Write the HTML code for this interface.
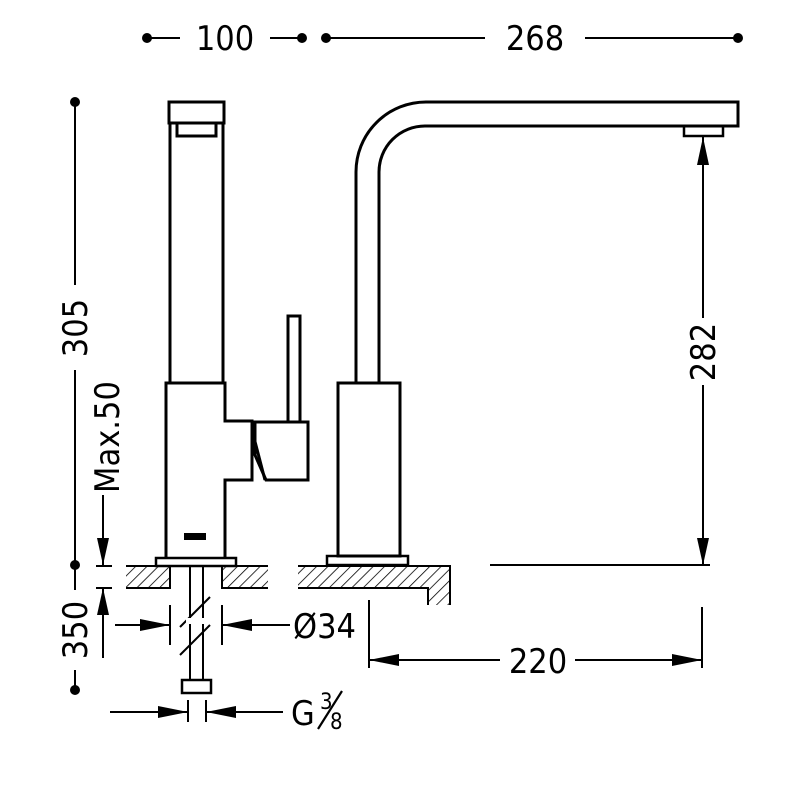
<!DOCTYPE html>
<html><head><meta charset="utf-8"><style>
html,body{margin:0;padding:0;background:#fff;}
svg{display:block;}
text{font-family:"DejaVu Sans Condensed","Liberation Sans",sans-serif;fill:#000;}
</style></head><body>
<svg width="800" height="800" viewBox="0 0 800 800" xmlns="http://www.w3.org/2000/svg">
<defs>
<pattern id="h" patternUnits="userSpaceOnUse" width="8" height="8" patternTransform="rotate(45)">
<line x1="0" y1="0" x2="0" y2="8" stroke="#000" stroke-width="1.6"/>
</pattern>
</defs>
<g fill="none" stroke="#000" stroke-width="3">
<rect x="169" y="102" width="55" height="21"/>
<path d="M177 123 V136 H216 V123"/>
<line x1="170" y1="123" x2="170" y2="383"/>
<line x1="223" y1="123" x2="223" y2="383"/>
<path d="M166 558 V383 H225 V421 H252 V480 H225 V558"/>
<path d="M255 422 H308 V480 H266 L255 455 Z"/>
<path d="M252 430 L265 480"/>
<rect x="288" y="316" width="12" height="106"/>
<rect x="156" y="558" width="80" height="8" stroke-width="2.5"/>
<path d="M356 383 V172 A70 70 0 0 1 426 102 H738 V126 H425 A46 46 0 0 0 379 172 V383"/>
<rect x="684" y="126" width="39" height="10" stroke-width="2.5"/>
<rect x="338" y="383" width="62" height="173"/>
<rect x="327" y="556" width="81" height="9" stroke-width="2.5"/>
</g>
<rect x="184" y="533" width="22" height="7" fill="#000"/>
<g stroke="#000" stroke-width="2">
<rect x="126" y="566" width="44" height="22" fill="url(#h)" stroke="none"/>
<rect x="222" y="566" width="46" height="22" fill="url(#h)" stroke="none"/>
<path d="M298 566 H450 V605 H428 V588 H298 Z" fill="url(#h)" stroke="none"/>
<path d="M126 566 H170 V588 H126 M268 566 H222 V588 H268" fill="none"/>
<path d="M298 566 H450 V605 M428 605 V588 H298" fill="none"/>
<line x1="190" y1="566" x2="190" y2="680"/>
<line x1="203" y1="566" x2="203" y2="680"/>
<line x1="180" y1="627" x2="210" y2="597"/>
<line x1="180" y1="655" x2="210" y2="625"/>
<rect x="182" y="680" width="29" height="13" fill="#fff" stroke-width="2.5"/>
</g>
<rect x="186" y="618" width="20" height="6" fill="#fff"/>
<g stroke="#000" stroke-width="2" fill="none">
<line x1="147" y1="38" x2="180" y2="38"/><line x1="270" y1="38" x2="302" y2="38"/>
<line x1="326" y1="38" x2="485" y2="38"/><line x1="585" y1="38" x2="738" y2="38"/>
<line x1="75" y1="102" x2="75" y2="285"/><line x1="75" y1="370" x2="75" y2="565"/>
<line x1="75" y1="565" x2="75" y2="590"/><line x1="75" y1="670" x2="75" y2="690"/>
<line x1="103" y1="495" x2="103" y2="565"/><line x1="96" y1="566" x2="112" y2="566"/>
<line x1="96" y1="588" x2="112" y2="588"/><line x1="103" y1="588" x2="103" y2="658"/>
<line x1="703" y1="137" x2="703" y2="318"/><line x1="703" y1="385" x2="703" y2="565"/>
<line x1="490" y1="565" x2="710" y2="565"/>
<line x1="369" y1="600" x2="369" y2="668"/><line x1="702" y1="607" x2="702" y2="668"/>
<line x1="369" y1="660" x2="500" y2="660"/><line x1="575" y1="660" x2="702" y2="660"/>
<line x1="170" y1="605" x2="170" y2="645"/><line x1="222" y1="605" x2="222" y2="645"/>
<line x1="115" y1="625" x2="170" y2="625"/><line x1="222" y1="625" x2="290" y2="625"/>
<line x1="188" y1="700" x2="188" y2="722"/><line x1="206" y1="700" x2="206" y2="722"/>
<line x1="110" y1="712" x2="188" y2="712"/><line x1="206" y1="712" x2="283" y2="712"/>
<line x1="318" y1="729" x2="342" y2="691" stroke-width="2.2"/>
</g>
<g fill="#000">
<circle cx="147" cy="38" r="5"/><circle cx="302" cy="38" r="5"/>
<circle cx="326" cy="38" r="5"/><circle cx="738" cy="38" r="5"/>
<circle cx="75" cy="102" r="5"/><circle cx="75" cy="565" r="5"/><circle cx="75" cy="690" r="5"/>
<polygon points="97,538 109,538 103,565"/>
<polygon points="97,615 109,615 103,588"/>
<polygon points="697,165 709,165 703,137"/>
<polygon points="697,538 709,538 703,565"/>
<polygon points="369,660 399,654 399,666"/>
<polygon points="702,660 672,654 672,666"/>
<polygon points="170,625 140,619 140,631"/>
<polygon points="222,625 252,619 252,631"/>
<polygon points="188,712 158,706 158,718"/>
<polygon points="206,712 236,706 236,718"/>
</g>
<g font-size="34">
<text x="225" y="50" text-anchor="middle">100</text>
<text x="535" y="50" text-anchor="middle">268</text>
<text x="538" y="673" text-anchor="middle">220</text>
<text x="293" y="638">Ø34</text>
<text x="291" y="725">G</text>
<text x="320" y="709" font-size="22">3</text>
<text x="330" y="729" font-size="22">8</text>
<text transform="translate(87,328) rotate(-90)" text-anchor="middle">305</text>
<text transform="translate(87,630) rotate(-90)" text-anchor="middle">350</text>
<text transform="translate(119,437) rotate(-90)" text-anchor="middle">Max.50</text>
<text transform="translate(715,352) rotate(-90)" text-anchor="middle">282</text>
</g>
</svg>
</body></html>
